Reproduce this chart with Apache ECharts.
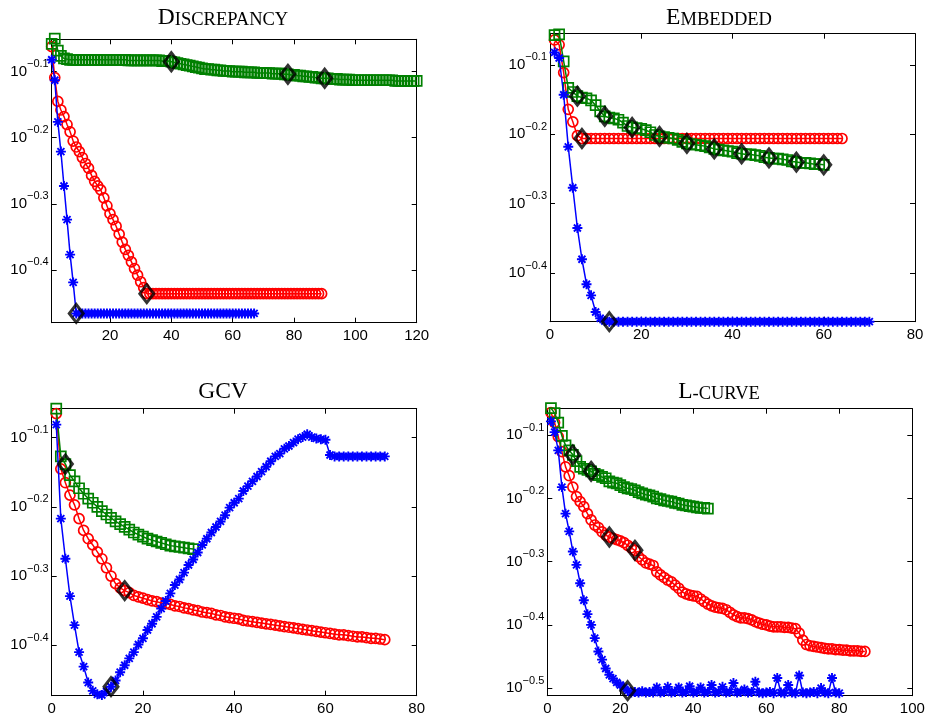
<!DOCTYPE html>
<html><head><meta charset="utf-8">
<script src="https://cdn.jsdelivr.net/npm/echarts@6/dist/echarts.min.js"></script>
<style>html,body{margin:0;padding:0;background:#fff}#c{width:925px;height:716px}</style>
</head><body><div id="c"></div>
<script>
// y values are log10 of the plotted quantity (the axes are logarithmic, labelled 10^e)
// ---------- DISCREPANCY ----------
const discXTicks = [20, 40, 60, 80, 100, 120];
const discYTicks = [-0.1, -0.2, -0.3, -0.4];
const discBlue = [
 -0.082,-0.113,-0.176,-0.221,-0.273,-0.324,-0.377,-0.419,-0.466,
 -0.466,-0.466,-0.466,-0.466,-0.466,-0.466,-0.466,-0.466,-0.466,-0.466,
 -0.466,-0.466,-0.466,-0.466,-0.466,-0.466,-0.466,-0.466,-0.466,-0.466,
 -0.466,-0.466,-0.466,-0.466,-0.466,-0.466,-0.466,-0.466,-0.466,-0.466,
 -0.466,-0.466,-0.466,-0.466,-0.466,-0.466,-0.466,-0.466,-0.466,-0.466,
 -0.466,-0.466,-0.466,-0.466,-0.466,-0.466,-0.466,-0.466,-0.466,-0.466,
 -0.466,-0.466,-0.466,-0.466,-0.466,-0.466,-0.466,-0.466
];
const discRed = [
 -0.062,-0.109,-0.145,-0.158,-0.168,-0.180,-0.191,-0.205,-0.214,-0.221,
 -0.230,-0.239,-0.246,-0.257,-0.266,-0.273,-0.279,-0.291,-0.303,-0.315,
 -0.324,-0.334,-0.346,-0.358,-0.369,-0.378,-0.388,-0.398,-0.408,-0.418,
 -0.427,-0.436,
 -0.436,-0.436,-0.436,-0.436,-0.436,-0.436,-0.436,-0.436,-0.436,-0.436,
 -0.436,-0.436,-0.436,-0.436,-0.436,-0.436,-0.436,-0.436,-0.436,-0.436,
 -0.436,-0.436,-0.436,-0.436,-0.436,-0.436,-0.436,-0.436,-0.436,-0.436,
 -0.436,-0.436,-0.436,-0.436,-0.436,-0.436,-0.436,-0.436,-0.436,-0.436,
 -0.436,-0.436,-0.436,-0.436,-0.436,-0.436,-0.436,-0.436,-0.436,-0.436,
 -0.436,-0.436,-0.436,-0.436,-0.436,-0.436,-0.436
];
const discGreen = [
 -0.058,-0.050,-0.068,-0.076,-0.080,-0.081,-0.082,-0.082,-0.082,-0.082,
 -0.082,-0.082,-0.082,-0.082,-0.082,-0.082,-0.082,-0.082,-0.082,-0.082,
 -0.082,-0.082,-0.082,-0.082,-0.082,-0.083,-0.083,-0.083,-0.083,-0.083,
 -0.083,-0.083,-0.083,-0.083,-0.083,-0.083,-0.084,-0.084,-0.084,-0.085,
 -0.086,-0.087,-0.088,-0.089,-0.090,-0.091,-0.092,-0.093,-0.094,-0.095,
 -0.096,-0.096,-0.097,-0.097,-0.098,-0.098,-0.099,-0.099,-0.099,-0.100,
 -0.100,-0.100,-0.100,-0.101,-0.101,-0.101,-0.101,-0.102,-0.102,-0.102,
 -0.102,-0.102,-0.103,-0.103,-0.103,-0.103,-0.104,-0.104,-0.105,-0.105,
 -0.106,-0.106,-0.107,-0.107,-0.108,-0.108,-0.109,-0.109,-0.110,-0.110,
 -0.110,-0.111,-0.111,-0.111,-0.112,-0.112,-0.112,-0.112,-0.113,-0.113,
 -0.113,-0.113,-0.113,-0.113,-0.113,-0.113,-0.113,-0.113,-0.113,-0.113,
 -0.113,-0.113,-0.114,-0.114,-0.114,-0.114,-0.114,-0.114,-0.114,-0.114
];
const discMarkBlue = [9];
const discMarkRed = [32];
const discMarkGreen = [40, 78, 90];

// ---------- EMBEDDED ----------
const embXTicks = [0, 20, 40, 60, 80];
const embYTicks = [-0.1, -0.2, -0.3, -0.4];
const embBlue = [
 -0.082,-0.090,-0.143,-0.218,-0.277,-0.335,-0.380,-0.416,-0.432,-0.456,-0.465,-0.469,
 -0.470,-0.470,-0.470,-0.470,-0.470,-0.470,-0.470,-0.470,-0.470,-0.470,
 -0.470,-0.470,-0.470,-0.470,-0.470,-0.470,-0.470,-0.470,-0.470,-0.470,
 -0.470,-0.470,-0.470,-0.470,-0.470,-0.470,-0.470,-0.470,-0.470,-0.470,
 -0.470,-0.470,-0.470,-0.470,-0.470,-0.470,-0.470,-0.470,-0.470,-0.470,
 -0.470,-0.470,-0.470,-0.470,-0.470,-0.470,-0.470,-0.470,-0.470,-0.470,
 -0.470,-0.470,-0.470,-0.470,-0.470,-0.470,-0.470,-0.470
];
const embRed = [
 -0.064,-0.071,-0.111,-0.164,-0.182,-0.202,
 -0.206,-0.206,-0.206,-0.206,-0.206,-0.206,-0.206,-0.206,-0.206,-0.206,
 -0.206,-0.206,-0.206,-0.206,-0.206,-0.206,-0.206,-0.206,-0.206,-0.206,
 -0.206,-0.206,-0.206,-0.206,-0.206,-0.206,-0.206,-0.206,-0.206,-0.206,
 -0.206,-0.206,-0.206,-0.206,-0.206,-0.206,-0.206,-0.206,-0.206,-0.206,
 -0.206,-0.206,-0.206,-0.206,-0.206,-0.206,-0.206,-0.206,-0.206,-0.206,
 -0.206,-0.206,-0.206,-0.206,-0.206,-0.206,-0.206,-0.206
];
const embGreen = [
 -0.057,-0.056,-0.095,-0.133,-0.139,-0.145,-0.147,-0.148,-0.151,-0.158,
 -0.167,-0.174,-0.176,-0.177,-0.179,-0.183,-0.188,-0.190,-0.191,-0.192,
 -0.194,-0.197,-0.201,-0.203,-0.204,-0.205,-0.206,-0.208,-0.211,-0.213,
 -0.214,-0.215,-0.216,-0.217,-0.219,-0.221,-0.222,-0.223,-0.224,-0.225,
 -0.227,-0.228,-0.229,-0.229,-0.230,-0.231,-0.233,-0.234,-0.235,-0.235,
 -0.236,-0.237,-0.239,-0.240,-0.241,-0.241,-0.242,-0.243,-0.243,-0.244
];
const embMarkBlue = [13];
const embMarkRed = [7];
const embMarkGreen = [6, 12, 18, 24, 30, 36, 42, 48, 54, 60];

// ---------- GCV ----------
const gcvXTicks = [0, 20, 40, 60, 80];
const gcvYTicks = [-0.1, -0.2, -0.3, -0.4];
const gcvBlue = [
 -0.081,-0.217,-0.275,-0.329,-0.371,-0.410,-0.431,-0.454,-0.466,-0.471,
 -0.472,-0.467,-0.460,-0.451,-0.439,-0.429,-0.419,-0.410,-0.399,-0.390,
 -0.378,-0.369,-0.359,-0.347,-0.336,-0.325,-0.313,-0.305,-0.295,-0.284,
 -0.276,-0.266,-0.255,-0.246,-0.237,-0.229,-0.221,-0.212,-0.201,-0.194,
 -0.188,-0.177,-0.170,-0.163,-0.156,-0.149,-0.142,-0.134,-0.127,-0.123,
 -0.116,-0.112,-0.107,-0.102,-0.099,-0.095,-0.099,-0.101,-0.102,-0.103,
 -0.125,-0.127,-0.127,-0.127,-0.127,-0.127,-0.127,-0.127,-0.127,-0.127,
 -0.127,-0.127,-0.127
];
const gcvRed = [
 -0.065,-0.145,-0.165,-0.183,-0.197,-0.217,-0.234,-0.246,-0.255,-0.265,
 -0.275,-0.288,-0.300,-0.311,-0.317,-0.321,-0.324,-0.328,-0.330,-0.332,
 -0.334,-0.336,-0.337,-0.339,-0.340,-0.341,-0.343,-0.344,-0.346,-0.347,
 -0.349,-0.350,-0.352,-0.353,-0.354,-0.356,-0.357,-0.359,-0.360,-0.361,
 -0.362,-0.364,-0.365,-0.366,-0.367,-0.368,-0.369,-0.370,-0.371,-0.372,
 -0.373,-0.374,-0.375,-0.376,-0.377,-0.378,-0.379,-0.380,-0.381,-0.382,
 -0.383,-0.384,-0.385,-0.385,-0.386,-0.387,-0.388,-0.388,-0.389,-0.390,
 -0.390,-0.391,-0.392
];
const gcvGreen = [
 -0.058,-0.127,-0.138,-0.154,-0.163,-0.173,-0.181,-0.188,-0.194,-0.200,
 -0.206,-0.211,-0.216,-0.221,-0.225,-0.229,-0.233,-0.237,-0.240,-0.243,
 -0.246,-0.248,-0.250,-0.252,-0.254,-0.256,-0.257,-0.258,-0.259,-0.260,
 -0.261
];
const gcvMarkBlue = [13];
const gcvMarkRed = [16];
const gcvMarkGreen = [3];

// ---------- L-CURVE ----------
const lcXTicks = [0, 20, 40, 60, 80, 100];
const lcYTicks = [-0.1, -0.2, -0.3, -0.4, -0.5];
const lcBlue = [
 -0.078,-0.095,-0.124,-0.182,-0.224,-0.252,-0.284,-0.305,-0.334,-0.361,
 -0.383,-0.400,-0.421,-0.442,-0.455,-0.469,-0.479,-0.485,-0.491,-0.495,
 -0.499,-0.504,-0.507,-0.506,-0.507,-0.505,-0.507,-0.506,-0.507,-0.499,
 -0.507,-0.506,-0.498,-0.507,-0.506,-0.499,-0.507,-0.506,-0.497,-0.507,
 -0.506,-0.499,-0.507,-0.506,-0.495,-0.507,-0.506,-0.498,-0.507,-0.506,
 -0.492,-0.507,-0.506,-0.502,-0.507,-0.506,-0.490,-0.507,-0.508,-0.507,
 -0.506,-0.508,-0.484,-0.507,-0.508,-0.495,-0.507,-0.508,-0.480,-0.507,
 -0.508,-0.507,-0.506,-0.508,-0.500,-0.507,-0.508,-0.484,-0.507,-0.508
];
const lcRed = [
 -0.064,-0.080,-0.102,-0.126,-0.150,-0.164,-0.182,-0.197,-0.205,-0.213,
 -0.224,-0.234,-0.242,-0.246,-0.253,-0.258,-0.261,-0.263,-0.265,-0.267,
 -0.270,-0.274,-0.278,-0.282,-0.292,-0.297,-0.302,-0.304,-0.306,-0.316,
 -0.321,-0.325,-0.329,-0.332,-0.337,-0.342,-0.348,-0.351,-0.353,-0.354,
 -0.355,-0.359,-0.363,-0.367,-0.370,-0.372,-0.373,-0.374,-0.376,-0.380,
 -0.384,-0.387,-0.389,-0.389,-0.390,-0.392,-0.395,-0.397,-0.399,-0.400,
 -0.402,-0.403,-0.403,-0.403,-0.404,-0.404,-0.405,-0.406,-0.413,-0.424,
 -0.431,-0.433,-0.434,-0.435,-0.436,-0.437,-0.438,-0.438,-0.439,-0.439,
 -0.440,-0.440,-0.441,-0.441,-0.441,-0.442,-0.442
];
const lcGreen = [
 -0.057,-0.065,-0.080,-0.101,-0.116,-0.124,-0.131,-0.141,-0.150,-0.153,
 -0.155,-0.157,-0.161,-0.163,-0.166,-0.168,-0.173,-0.175,-0.176,-0.179,
 -0.182,-0.184,-0.185,-0.187,-0.190,-0.192,-0.194,-0.195,-0.197,-0.200,
 -0.201,-0.203,-0.204,-0.205,-0.207,-0.208,-0.210,-0.211,-0.212,-0.213,
 -0.214,-0.215,-0.215,-0.216
];
const lcMarkBlue = [22];
const lcMarkRed = [17, 24];
const lcMarkGreen = [7, 12];

// ---------- layout / style ----------
const SANS = "'Liberation Sans', Arial, Helvetica, sans-serif";
const SERIF = "'Liberation Serif', 'Times New Roman', serif";
const BLUE = '#0000ff', RED = '#ff0000', GREEN = '#008000';
const ASTER = 'path://M0 5L10 5M5 0L5 10M1.5 1.5L8.5 8.5M8.5 1.5L1.5 8.5';

const panels = [
  {title:'{L|D}{S|ISCREPANCY}', tx:223, ty:18, g:[51.7,39.3,365,283.4], xr:[1,120], yr:[-0.48,-0.051],
   xt:discXTicks, yt:discYTicks, blue:discBlue, red:discRed, green:discGreen, mb:discMarkBlue, mr:discMarkRed, mg:discMarkGreen},
  {title:'{L|E}{S|MBEDDED}', tx:719, ty:18, g:[550,33.7,365,288], xr:[0,80], yr:[-0.47,-0.055],
   xt:embXTicks, yt:embYTicks, blue:embBlue, red:embRed, green:embGreen, mb:embMarkBlue, mr:embMarkRed, mg:embMarkGreen},
  {title:'{L|GCV}', tx:223, ty:392, g:[51.7,408.7,365,287], xr:[0,80], yr:[-0.473,-0.058],
   xt:gcvXTicks, yt:gcvYTicks, blue:gcvBlue, red:gcvRed, green:gcvGreen, mb:gcvMarkBlue, mr:gcvMarkRed, mg:gcvMarkGreen},
  {title:'{L|L}{S|-CURVE}', tx:719, ty:392, g:[547.3,408.7,365,287], xr:[0,100], yr:[-0.512,-0.058],
   xt:lcXTicks, yt:lcYTicks, blue:lcBlue, red:lcRed, green:lcGreen, mb:lcMarkBlue, mr:lcMarkRed, mg:lcMarkGreen}
];

const pts = vals => vals.map((v, i) => [i + 1, v]);
const marks = (vals, idx) => idx.map(k => [k, vals[k - 1]]);

const option = {animation:false, backgroundColor:'#fff', grid:[], xAxis:[], yAxis:[], series:[], graphic:[]};

panels.forEach((p, i) => {
  option.grid.push({left:p.g[0], top:p.g[1], width:p.g[2], height:p.g[3], containLabel:false, outerBoundsMode:'none'});
  const line = {show:true, onZero:false, lineStyle:{color:'#000', width:1}};
  const tick = vals => ({show:true, inside:true, length:5, lineStyle:{color:'#000', width:1}, customValues:vals});
  option.xAxis.push({type:'value', gridIndex:i, position:'bottom', min:p.xr[0], max:p.xr[1], axisLine:line, axisTick:tick(p.xt),
    axisLabel:{show:true, customValues:p.xt, color:'#000', fontSize:15, fontFamily:SANS, margin:6}, splitLine:{show:false}});
  option.xAxis.push({type:'value', gridIndex:i, position:'top', min:p.xr[0], max:p.xr[1], axisLine:line, axisTick:tick(p.xt),
    axisLabel:{show:false}, splitLine:{show:false}});
  option.yAxis.push({type:'value', gridIndex:i, position:'left', min:p.yr[0], max:p.yr[1], axisLine:line, axisTick:tick(p.yt),
    axisLabel:{show:true, customValues:p.yt, margin:3,
      formatter: v => '{b|10}{s|' + Number(v).toFixed(1).replace('-', '\u2212') + '}',
      rich:{b:{fontSize:15, lineHeight:26, color:'#000', fontFamily:SANS},
            s:{fontSize:11, lineHeight:11, verticalAlign:'top', color:'#000', fontFamily:SANS}}},
    splitLine:{show:false}});
  option.yAxis.push({type:'value', gridIndex:i, position:'right', min:p.yr[0], max:p.yr[1], axisLine:line, axisTick:tick(p.yt),
    axisLabel:{show:false}, splitLine:{show:false}});

  const xi = 2 * i, yi = 2 * i;
  const ser = (vals, color, symbol, size, bw, z) => ({
    type:'line', xAxisIndex:xi, yAxisIndex:yi, data:pts(vals), clip:false, showAllSymbol:true,
    symbol:symbol, symbolSize:size, z:z,
    lineStyle:{color:color, width:1.5},
    itemStyle:{color:'rgba(0,0,0,0)', borderColor:color, borderWidth:bw},
    emphasis:{disabled:true}
  });
  option.series.push(ser(p.red, RED, 'circle', 10, 1.7, 2));
  option.series.push(ser(p.green, GREEN, 'rect', 10, 1.7, 3));
  option.series.push(ser(p.blue, BLUE, ASTER, 10, 1.9, 4));
  const dm = [].concat(marks(p.blue, p.mb), marks(p.red, p.mr), marks(p.green, p.mg));
  option.series.push({type:'scatter', xAxisIndex:xi, yAxisIndex:yi, data:dm, clip:false, symbol:'diamond', symbolSize:[14,18], z:6,
    itemStyle:{color:'rgba(0,0,0,0)', borderColor:'#000', borderWidth:3}, emphasis:{disabled:true}});

  option.graphic.push({type:'text', x:p.tx, y:p.ty, z:100, style:{
    text:p.title, align:'center', verticalAlign:'middle', fill:'#000',
    rich:{L:{fontSize:23.5, lineHeight:23.5, fontFamily:SERIF, verticalAlign:'bottom', fill:'#000'},
          S:{fontSize:18.5, lineHeight:18.5, fontFamily:SERIF, verticalAlign:'bottom', fill:'#000'}}}});
});

const chart = echarts.init(document.getElementById('c'), null, {renderer:'canvas'});
chart.setOption(option);
</script></body></html>
